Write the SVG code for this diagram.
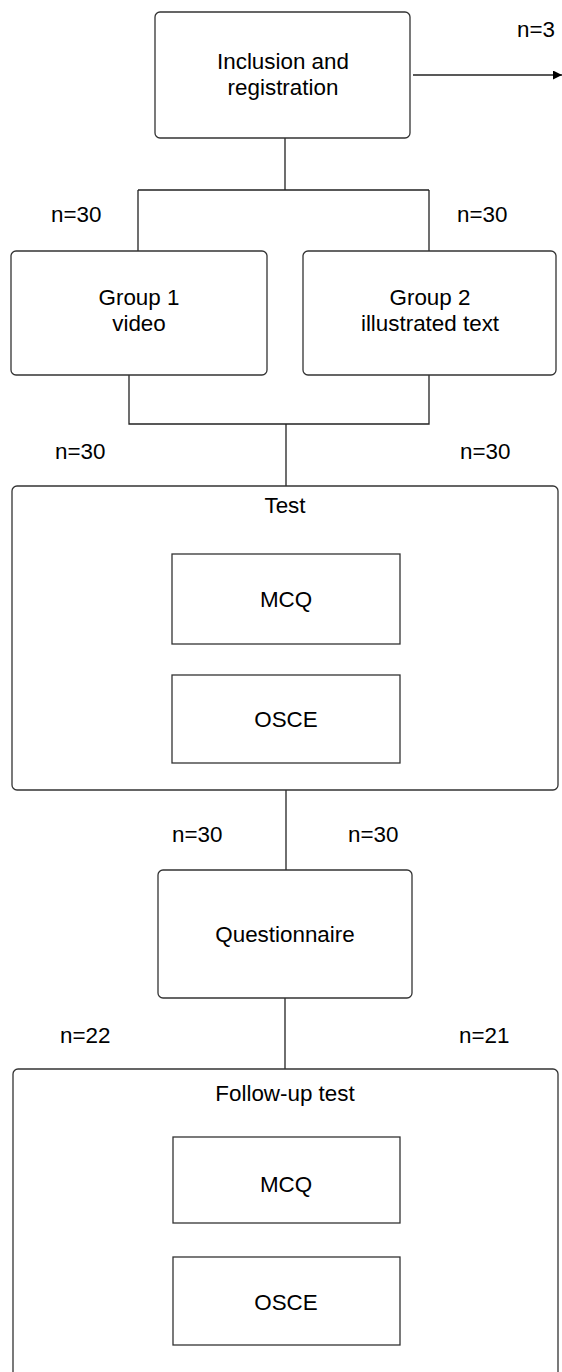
<svg xmlns="http://www.w3.org/2000/svg" width="562" height="1372" viewBox="0 0 562 1372">
<defs>
<style>
.box{fill:#fff;stroke:#333;stroke-width:1.3}
.lbl{font-family:"Liberation Sans",Arial,sans-serif;font-size:22.4px;fill:#000;text-anchor:middle}
.n{font-family:"Liberation Sans",Arial,sans-serif;font-size:22.4px;fill:#000}
.ln{fill:none;stroke:#222;stroke-width:1.3}
</style>
<marker id="arr" viewBox="0 0 10 10" refX="10" refY="5" markerWidth="9" markerHeight="9" markerUnits="userSpaceOnUse" orient="auto">
<path d="M0,0 L10,5 L0,10 z" fill="#000"/>
</marker>
</defs>
<rect width="562" height="1372" fill="#fff"/>
<g id="connectors">
<line class="ln" x1="413" y1="75" x2="562" y2="75" marker-end="url(#arr)"/>
<path class="ln" d="M285,138 V190 M138,190 H429 M138,190 V251 M429,190 V251"/>
<path class="ln" d="M129,375 V424 H429 V375 M286,424 V486"/>
<path class="ln" d="M286,790 V870"/>
<path class="ln" d="M285,998 V1069"/>
</g>
<g id="labels">
<text class="n" x="517" y="37">n=3</text>
<text class="n" x="51" y="222">n=30</text>
<text class="n" x="457" y="222">n=30</text>
<text class="n" x="55" y="459">n=30</text>
<text class="n" x="460" y="459">n=30</text>
<text class="n" x="172" y="842">n=30</text>
<text class="n" x="348" y="842">n=30</text>
<text class="n" x="60" y="1043">n=22</text>
<text class="n" x="459" y="1043">n=21</text>
</g>
<g id="inclusion">
<rect class="box" x="155" y="12" width="255" height="126" rx="5"/>
<text class="lbl" x="283" y="69">Inclusion and</text>
<text class="lbl" x="283" y="95">registration</text>
</g>
<g id="group1">
<rect class="box" x="11" y="251" width="256" height="124" rx="5"/>
<text class="lbl" x="139" y="305">Group 1</text>
<text class="lbl" x="139" y="331">video</text>
</g>
<g id="group2">
<rect class="box" x="303" y="251" width="253" height="124" rx="5"/>
<text class="lbl" x="430" y="305">Group 2</text>
<text class="lbl" x="430" y="331">illustrated text</text>
</g>
<g id="test">
<rect class="box" x="12" y="486" width="546" height="304" rx="5"/>
<text class="lbl" x="285" y="513">Test</text>
</g>
<g id="test-mcq">
<rect class="box" x="172" y="554" width="228" height="90"/>
<text class="lbl" x="286" y="607">MCQ</text>
</g>
<g id="test-osce">
<rect class="box" x="172" y="675" width="228" height="88"/>
<text class="lbl" x="286" y="727">OSCE</text>
</g>
<g id="questionnaire">
<rect class="box" x="158" y="870" width="254" height="128" rx="5"/>
<text class="lbl" x="285" y="942">Questionnaire</text>
</g>
<g id="followup">
<rect class="box" x="13" y="1069" width="545" height="320" rx="5"/>
<text class="lbl" x="285" y="1101">Follow-up test</text>
</g>
<g id="followup-mcq">
<rect class="box" x="173" y="1137" width="227" height="86"/>
<text class="lbl" x="286" y="1192">MCQ</text>
</g>
<g id="followup-osce">
<rect class="box" x="173" y="1257" width="227" height="88"/>
<text class="lbl" x="286" y="1310">OSCE</text>
</g>
</svg>
